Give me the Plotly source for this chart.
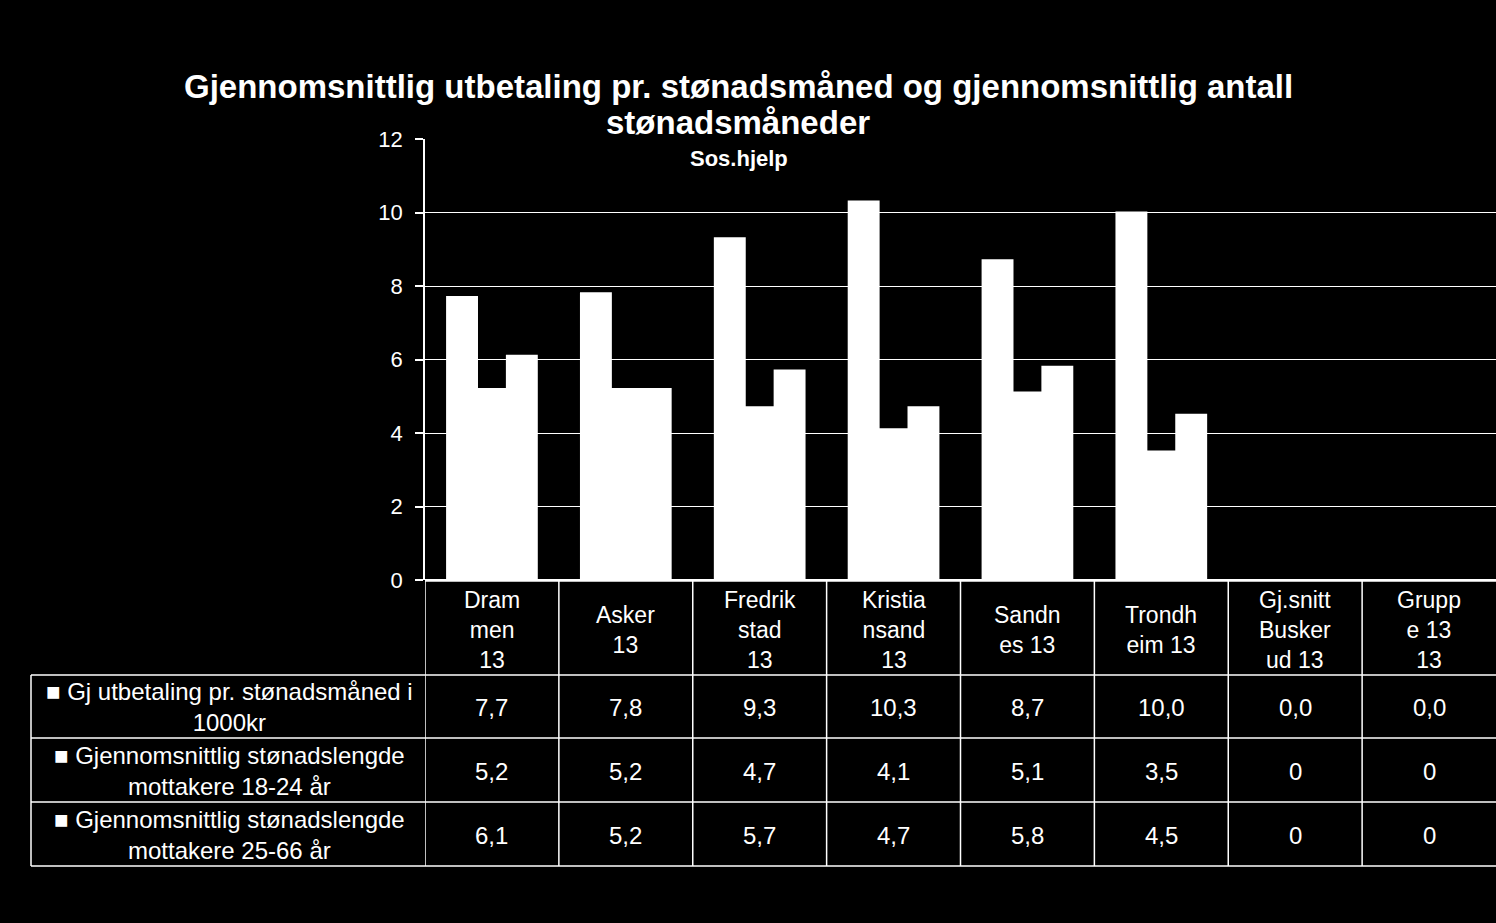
import plotly.graph_objects as go

# ---------------- data ----------------
categories = ["Dram<br>men<br>13", "Asker<br>13", "Fredrik<br>stad<br>13", "Kristia<br>nsand<br>13",
              "Sandn<br>es 13", "Trondh<br>eim 13", "Gj.snitt<br>Busker<br>ud 13", "Grupp<br>e 13<br>13"]
series_names = ["Gj utbetaling pr. stønadsmåned i 1000kr",
                "Gjennomsnittlig stønadslengde mottakere 18-24 år",
                "Gjennomsnittlig stønadslengde mottakere 25-66 år"]
row_labels = ["■ Gj utbetaling pr. stønadsmåned i<br>1000kr",
              "■ Gjennomsnittlig stønadslengde<br>mottakere 18-24 år",
              "■ Gjennomsnittlig stønadslengde<br>mottakere 25-66 år"]
utbetaling = [7.7, 7.8, 9.3, 10.3, 8.7, 10.0, 0.0, 0.0]
lengde_18_24 = [5.2, 5.2, 4.7, 4.1, 5.1, 3.5, 0, 0]
lengde_25_66 = [6.1, 5.2, 5.7, 4.7, 5.8, 4.5, 0, 0]
y_ticks = [0, 2, 4, 6, 8, 10, 12]
title_lines = ["Gjennomsnittlig utbetaling pr. stønadsmåned og gjennomsnittlig antall",
               "stønadsmåneder"]
subtitle = "Sos.hjelp"

# ---------------- layout helpers ----------------
W, H = 1496, 923
FONT = "Liberation Sans, Arial, sans-serif"
WHITE = "#ffffff"


def py(y):
    return (H - y) / H


def px(x):
    return x / W


series = [utbetaling, lengde_18_24, lengde_25_66]
formats = [lambda v: f"{v:.1f}".replace(".", ","),
           lambda v: f"{v:g}".replace(".", ","),
           lambda v: f"{v:g}".replace(".", ",")]

fig = go.Figure()
for name, vals in zip(series_names, series):
    fig.add_trace(go.Bar(x=categories, y=vals, name=name,
                         marker=dict(color=WHITE, line=dict(width=2, color=WHITE)),
                         hoverinfo="x+y"))

shapes = []
line = dict(color=WHITE, width=1.5)
# table horizontal lines
shapes.append(dict(type="line", xref="paper", yref="paper", x0=px(425), x1=1, y0=py(581), y1=py(581), line=line))
for yy in [675, 738, 802, 866]:
    shapes.append(dict(type="line", xref="paper", yref="paper", x0=px(31), x1=1, y0=py(yy), y1=py(yy), line=line))
# table vertical lines
shapes.append(dict(type="line", xref="paper", yref="paper", x0=px(31), x1=px(31), y0=py(675), y1=py(866), line=line))
for k in range(len(categories)):
    shapes.append(dict(type="line", xref="x", yref="paper", x0=k - 0.5, x1=k - 0.5,
                       y0=py(580), y1=py(866), line=line))

annotations = []
# title
annotations.append(dict(text="<b>%s</b>" % title_lines[0], xref="paper", yref="paper", x=px(738), y=py(86),
                        xanchor="center", yanchor="middle", showarrow=False,
                        font=dict(family=FONT, size=33, color=WHITE)))
annotations.append(dict(text="<b>%s</b>" % title_lines[1], xref="paper", yref="paper", x=px(738), y=py(123),
                        xanchor="center", yanchor="middle", showarrow=False,
                        font=dict(family=FONT, size=33, color=WHITE)))
annotations.append(dict(text="<b>%s</b>" % subtitle, xref="paper", yref="paper", x=px(739), y=py(158),
                        xanchor="center", yanchor="middle", showarrow=False,
                        font=dict(family=FONT, size=22, color=WHITE)))
# header row
for c in categories:
    annotations.append(dict(text=c, xref="x", yref="paper", x=c, y=py(630),
                            xanchor="center", yanchor="middle", showarrow=False, align="center",
                            font=dict(family=FONT, size=23, color=WHITE)))
# data rows
row_centers = [707, 771, 835]
for lbl, vals, fmt, yc in zip(row_labels, series, formats, row_centers):
    annotations.append(dict(text=lbl, xref="paper", yref="paper", x=px(229), y=py(yc),
                            xanchor="center", yanchor="middle", showarrow=False, align="center",
                            font=dict(family=FONT, size=24, color=WHITE)))
    for c, v in zip(categories, vals):
        annotations.append(dict(text=fmt(v), xref="x", yref="paper", x=c, y=py(yc),
                                xanchor="center", yanchor="middle", showarrow=False,
                                font=dict(family=FONT, size=24, color=WHITE)))

fig.update_layout(
    width=W, height=H,
    paper_bgcolor="#000000", plot_bgcolor="#000000",
    margin=dict(l=0, r=0, t=0, b=0, autoexpand=False),
    showlegend=False,
    barmode="group", bargap=0.33, bargroupgap=0,
    font=dict(family=FONT, color=WHITE),
    xaxis=dict(domain=[px(425), 1.0], range=[-0.5, 7.5], showticklabels=False,
               showgrid=False, zeroline=False, showline=False, ticks=""),
    yaxis=dict(domain=[py(580), py(139)], range=[0, 12], tickvals=y_ticks,
               showgrid=True, gridcolor=WHITE, gridwidth=1.2,
               zeroline=True, zerolinecolor=WHITE, zerolinewidth=1.5,
               showline=True, linecolor=WHITE, linewidth=1.5,
               ticks="outside", ticklen=8, tickcolor=WHITE, tickwidth=1.5,
               ticklabelstandoff=8,
               tickfont=dict(family=FONT, size=22, color=WHITE)),
    shapes=shapes,
    annotations=annotations,
)

fig.write_html("out.html",
               config={"displayModeBar": False},
               post_script="document.body.style.margin='0';document.body.style.background='#000';"
                           "document.documentElement.style.background='#000';"
                           "document.body.style.overflow='hidden';")
